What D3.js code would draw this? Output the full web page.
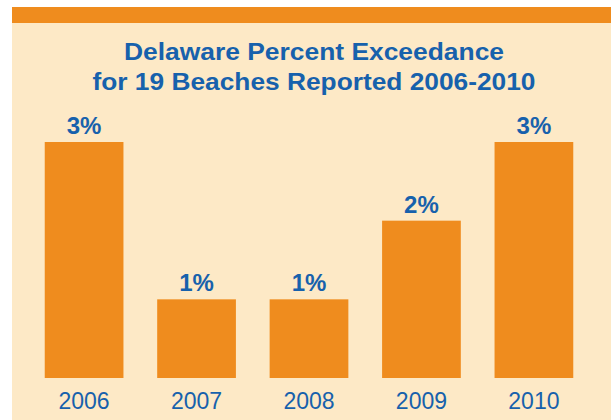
<!DOCTYPE html>
<html>
<head>
<meta charset="utf-8">
<script src="https://cdn.jsdelivr.net/npm/d3@7"></script>
<style>
  html, body { margin: 0; padding: 0; background: #ffffff; }
  svg { display: block; }
</style>
</head>
<body>
<svg id="chart" width="611" height="420"></svg>
<script>
const years = ["2006", "2007", "2008", "2009", "2010"];
const percents = [3, 1, 1, 2, 3];
const valueLabels = ["3%", "1%", "1%", "2%", "3%"];
const titleLines = ["Delaware Percent Exceedance", "for 19 Beaches Reported 2006-2010"];

const orange = "#ef8c1e";
const blue = "#1761ac";
const peach = "#fde9c6";

const svg = d3.select("#chart");

// panel + top band
svg.append("rect").attr("x", 12).attr("y", 7).attr("width", 599).attr("height", 413).attr("fill", peach);
svg.append("rect").attr("x", 12).attr("y", 7).attr("width", 599).attr("height", 16).attr("fill", orange);

// title
svg.append("g")
  .selectAll("text")
  .data(titleLines)
  .join("text")
  .attr("x", 314)
  .attr("y", (d, i) => 60 + i * 30)
  .attr("text-anchor", "middle")
  .attr("textLength", (d, i) => i === 0 ? 380 : 443)
  .attr("lengthAdjust", "spacingAndGlyphs")
  .style("font-family", "Liberation Sans, Arial, sans-serif")
  .style("font-weight", "bold")
  .style("font-size", "24px")
  .style("fill", blue)
  .text((d) => d);

const x = d3.scaleBand()
  .domain(years)
  .range([11, 607])
  .paddingInner(0.3)
  .paddingOuter(0.3);

const y = d3.scaleLinear()
  .domain([0, 3])
  .range([378, 142]);

const data = years.map((yr, i) => ({ year: yr, value: percents[i], label: valueLabels[i] }));

svg.append("g")
  .selectAll("rect")
  .data(data)
  .join("rect")
  .attr("x", (d) => x(d.year))
  .attr("y", (d) => y(d.value))
  .attr("width", x.bandwidth())
  .attr("height", (d) => y(0) - y(d.value))
  .attr("fill", orange);

svg.append("g")
  .selectAll("text")
  .data(data)
  .join("text")
  .attr("x", (d) => x(d.year) + x.bandwidth() / 2)
  .attr("y", (d) => y(d.value) - 8)
  .attr("text-anchor", "middle")
  .style("font-family", "Liberation Sans, Arial, sans-serif")
  .style("font-weight", "bold")
  .style("font-size", "24px")
  .style("fill", blue)
  .text((d) => d.label);

svg.append("g")
  .selectAll("text")
  .data(data)
  .join("text")
  .attr("x", (d) => x(d.year) + x.bandwidth() / 2)
  .attr("y", 409)
  .attr("text-anchor", "middle")
  .style("font-family", "Liberation Sans, Arial, sans-serif")
  .style("font-size", "23px")
  .style("fill", blue)
  .text((d) => d.year);
</script>
</body>
</html>
